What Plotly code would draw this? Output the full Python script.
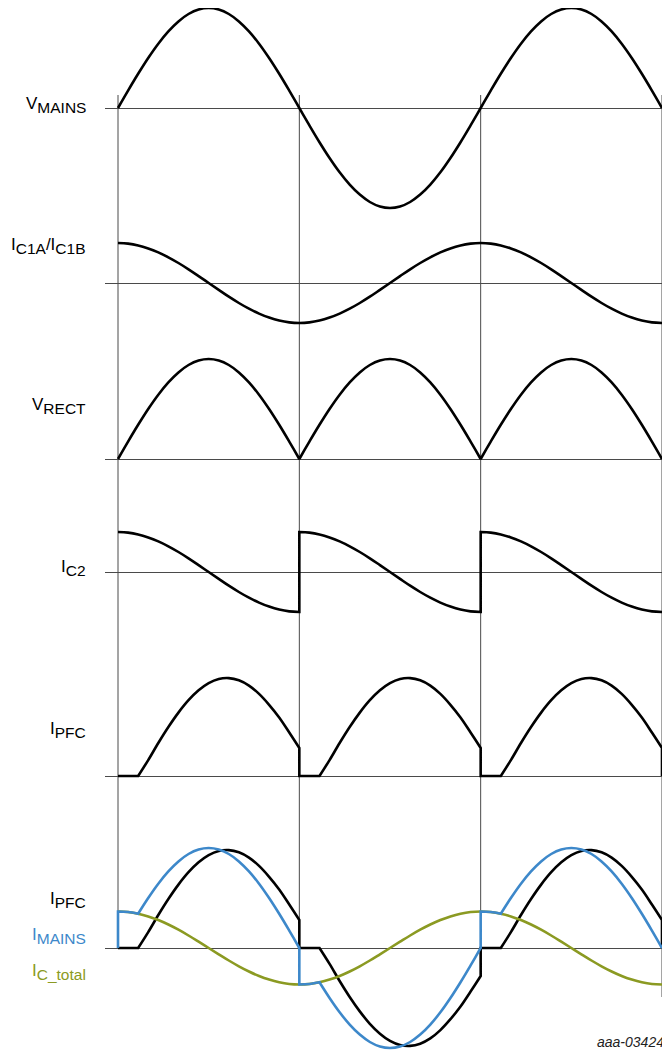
"""
Timing diagram: mains voltage, capacitor currents and PFC current over 1.5 mains cycles.
"""

import plotly.graph_objects as go
from plotly.subplots import make_subplots

# ── Data: one half mains cycle, sampled every 10 degrees ─────────────────────
PHASE = [0, 10, 20, 30, 40, 50, 60, 70, 80, 90, 100, 110, 120, 130, 140, 150, 160, 170, 180]
BOUNDARIES = [0, 180, 360, 540]          # start of each half cycle + end of the plot
AC_POLARITY = [1, -1, 1]
RECT_POLARITY = [1, 1, 1]

V_MAINS = [0, 17.4, 34.2, 50, 64.3, 76.6, 86.6, 94, 98.5, 100,
           98.5, 94, 86.6, 76.6, 64.3, 50, 34.2, 17.4, 0]
I_C1 = [40, 39.4, 37.6, 34.6, 30.6, 25.7, 20, 13.7, 6.9, 0,
        -6.9, -13.7, -20, -25.7, -30.6, -34.6, -37.6, -39.4, -40]
I_PFC = [0, 0, 0, 15.9, 33, 49, 63.4, 75.8, 85.7, 92.9,
         97, 97.9, 95.7, 90.4, 82.1, 71.2, 58.5, 43.5, 28]
I_C_TOTAL = [36.5, 36, 34.3, 31.6, 28, 23.5, 18.3, 12.5, 6.3, 0,
             -6.3, -12.5, -18.3, -23.5, -28, -31.6, -34.3, -36, -36.5]
I_MAINS = [36.5, 36, 34.3, 50, 64.3, 76.6, 86.6, 94, 98.5, 100,
           98.5, 94, 86.6, 76.6, 64.3, 50, 34.2, 17.4, 0]
PFC_ON = 2                               # index in PHASE where the PFC starts conducting

# ── Styling ───────────────────────────────────────────────────────────────────
PAGE_MARGIN = 8                          # default <body> margin of the html page
W, H = 662, 1044
BLACK = "#000000"
BLUE = "#3D88CA"
OLIVE = "#8B9A22"
GRID = "#4A4A4A"
FONT = "Arial, Liberation Sans, sans-serif"

# (baseline, top, bottom) of each strip, in page pixels
PANELS = [(108, 8, 225), (283, 225, 340), (459, 340, 500),
          (572, 500, 640), (776, 640, 800), (948, 800, 1052)]


def px_x(p):
    return (p - PAGE_MARGIN) / W


def px_y(p):
    return (H - (p - PAGE_MARGIN)) / H


def half(values, k, sign, lo=0, hi=None):
    return [(BOUNDARIES[k] + p, sign * v) for p, v in zip(PHASE[lo:hi], values[lo:hi])]


def smooth(values, polarity):
    pts = []
    for k, s in enumerate(polarity):
        seg = half(values, k, s)
        pts += seg if k == 0 else seg[1:]
    return pts


def chain(*runs):
    """Join smooth runs with sharp corners / vertical jumps (doubled points)."""
    xs, ys = [], []
    for i, run in enumerate(runs):
        pts = list(run)
        if i > 0:
            pts = [pts[0]] + pts
        if i < len(runs) - 1:
            pts = pts + [pts[-1]]
        xs += [p[0] for p in pts]
        ys += [p[1] for p in pts]
    return xs, ys


def pfc_runs(polarity):
    runs = []
    for k, s in enumerate(polarity):
        runs.append(half(I_PFC, k, s, 0, PFC_ON + 1))
        runs.append(half(I_PFC, k, s, PFC_ON))
    runs.append([(BOUNDARIES[-1], I_PFC[0])])
    return runs


def mains_runs():
    runs = [[(BOUNDARIES[0], I_MAINS[-1])]]
    for k, s in enumerate(AC_POLARITY):
        runs.append(half(I_MAINS, k, s, 0, PFC_ON + 1))
        runs.append(half(I_MAINS, k, s, PFC_ON))
    return runs


fig = make_subplots(rows=6, cols=1, shared_xaxes=True, vertical_spacing=0)


def line(row, xy, color):
    x, y = xy
    fig.add_trace(go.Scatter(
        x=x, y=y, mode="lines",
        line=dict(color=color, width=2.6, shape="spline", smoothing=1),
        hoverinfo="skip", showlegend=False,
    ), row=row, col=1)


line(1, chain(smooth(V_MAINS, AC_POLARITY)), BLACK)
line(2, chain(smooth(I_C1, AC_POLARITY)), BLACK)
line(3, chain(*[half(V_MAINS, k, s) for k, s in enumerate(RECT_POLARITY)]), BLACK)
line(4, chain(*[half(I_C1, k, s) for k, s in enumerate(RECT_POLARITY)]), BLACK)
line(5, chain(*pfc_runs(RECT_POLARITY)), BLACK)
line(6, chain(*pfc_runs(AC_POLARITY)), BLACK)
line(6, chain(smooth(I_C_TOTAL, AC_POLARITY)), OLIVE)
line(6, chain(*mains_runs()), BLUE)

# axes: 1 data unit = 1 px
x0_px, deg_px = 118, 544 / 540
x_range = [(105 - x0_px) / deg_px, (670 - x0_px) / deg_px]
for i, (base, top, bot) in enumerate(PANELS, start=1):
    fig.update_xaxes(range=x_range, domain=[px_x(105), 1], showgrid=False, zeroline=False,
                     showticklabels=False, ticks="", showline=False, row=i, col=1)
    fig.update_yaxes(range=[-(bot - base), base - top],
                     domain=[px_y(bot), px_y(top)],
                     showgrid=False, showticklabels=False, ticks="", showline=False,
                     zeroline=True, zerolinecolor=GRID, zerolinewidth=1,
                     row=i, col=1)

# vertical markers at every half cycle boundary
for b in BOUNDARIES:
    bottom = 997 if b == BOUNDARIES[-1] else 948
    fig.add_shape(type="line", xref="x", yref="paper", x0=b, x1=b,
                  y0=px_y(bottom), y1=px_y(95),
                  line=dict(color=GRID, width=1), layer="below")


def label(main, sub):
    return "".join(f"{m}<sub><span style='font-size:15.5px'>{s}</span></sub>"
                   for m, s in zip(main, sub))


LABELS = [
    (label("V", ["MAINS"]), 105, BLACK),
    (label("I", ["C1A"]) + "/" + label("I", ["C1B"]), 246.5, BLACK),
    (label("V", ["RECT"]), 406, BLACK),
    (label("I", ["C2"]), 568, BLACK),
    (label("I", ["PFC"]), 729.5, BLACK),
    (label("I", ["PFC"]), 900.5, BLACK),
    (label("I", ["MAINS"]), 935.5, BLUE),
    (label("I", ["C_total"]), 971.5, OLIVE),
]
for text, y_px, color in LABELS:
    fig.add_annotation(text=text, xref="paper", yref="paper", x=px_x(88), y=px_y(y_px),
                       xanchor="right", yanchor="middle", showarrow=False,
                       font=dict(family=FONT, size=17, color=color))

fig.add_annotation(text="<i>aaa-034244</i>", xref="paper", yref="paper",
                   x=px_x(595), y=px_y(1042), xanchor="left", yanchor="middle",
                   showarrow=False, font=dict(family=FONT, size=14, color="#222222"))

fig.update_layout(
    width=W, height=H, autosize=False,
    margin=dict(l=0, r=0, t=0, b=0),
    paper_bgcolor="#FFFFFF", plot_bgcolor="rgba(0,0,0,0)",
    font=dict(family=FONT, color=BLACK),
    showlegend=False,
)

fig.write_html("out.html")
